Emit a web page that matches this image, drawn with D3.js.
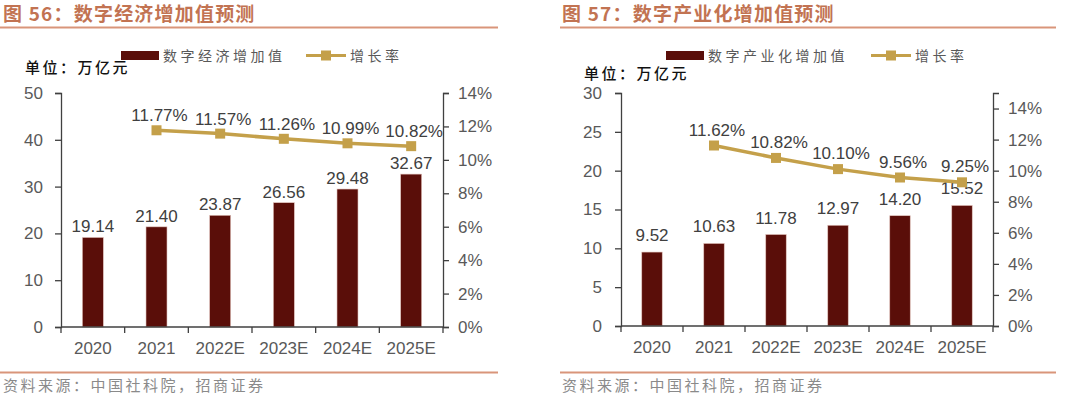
<!DOCTYPE html>
<html>
<head>
<meta charset="utf-8">
<style>
    body { margin: 0; background: #fff; }
    svg { display: block; }
    .title { font-family: "Noto Sans CJK SC", sans-serif; font-weight: 700; font-size: 19px; fill: #C27352; letter-spacing: 1.2px; }
    .num { font-family: "Liberation Sans", Arial, sans-serif; font-size: 17px; fill: #404040; }
    .tick text { font-family: "Liberation Sans", Arial, sans-serif; font-size: 17px; fill: #595959; }
    .cjk { font-family: "Noto Sans CJK SC", sans-serif; }
</style>
</head>
<body>
<div id="chart"></div>
<script src="https://cdnjs.cloudflare.com/ajax/libs/d3/7.8.5/d3.min.js"></script>
<script>
    // data
    const years = ["2020", "2021", "2022E", "2023E", "2024E", "2025E"];
    const economyValue = [19.14, 21.40, 23.87, 26.56, 29.48, 32.67];
    const economyGrowth = [null, 11.77, 11.57, 11.26, 10.99, 10.82];
    const industryValue = [9.52, 10.63, 11.78, 12.97, 14.20, 15.52];
    const industryGrowth = [null, 11.62, 10.82, 10.10, 9.56, 9.25];
    const economyTicks = [0, 10, 20, 30, 40, 50];
    const industryTicks = [0, 5, 10, 15, 20, 25, 30];
    const growthTicks = [0, 2, 4, 6, 8, 10, 12, 14];

    const barColor = "#5A0E09";
    const lineColor = "#C4A04A";
    const ruleColor = "#D9957A";

    const svg = d3.select("#chart").append("svg")
        .attr("width", 1080)
        .attr("height", 398);

    function drawChart(cfg) {
        const g = svg.append("g");

        // title + rules
        g.append("text").attr("class", "title")
            .attr("x", cfg.titleX).attr("y", 21)
            .text(cfg.title);
        g.append("line")
            .attr("x1", cfg.ruleX1).attr("x2", cfg.ruleX2)
            .attr("y1", 27.5).attr("y2", 27.5)
            .attr("stroke", ruleColor).attr("stroke-width", 2);
        g.append("line")
            .attr("x1", cfg.ruleX1).attr("x2", cfg.ruleX2)
            .attr("y1", 372.5).attr("y2", 372.5)
            .attr("stroke", ruleColor).attr("stroke-width", 2);
        g.append("text").attr("class", "cjk")
            .attr("x", cfg.titleX).attr("y", 391)
            .attr("font-size", 15).attr("fill", "#8a8a8a")
            .attr("letter-spacing", 2.5)
            .text("资料来源：中国社科院，招商证券");

        // legend
        g.append("rect")
            .attr("x", cfg.legendBarX).attr("y", 51)
            .attr("width", 38).attr("height", 9)
            .attr("fill", barColor);
        g.append("text").attr("class", "cjk")
            .attr("x", cfg.legendBarX + 42).attr("y", 61)
            .attr("font-size", 14).attr("fill", "#595959")
            .attr("letter-spacing", 3.5)
            .text(cfg.barName);
        g.append("line")
            .attr("x1", cfg.legendLineX).attr("x2", cfg.legendLineX + 40)
            .attr("y1", 55.5).attr("y2", 55.5)
            .attr("stroke", lineColor).attr("stroke-width", 3);
        g.append("rect")
            .attr("x", cfg.legendLineX + 15).attr("y", 50.5)
            .attr("width", 10).attr("height", 10)
            .attr("fill", lineColor);
        g.append("text").attr("class", "cjk")
            .attr("x", cfg.legendLineX + 44).attr("y", 61)
            .attr("font-size", 14).attr("fill", "#595959")
            .attr("letter-spacing", 3.5)
            .text("增长率");

        g.append("text").attr("class", "cjk")
            .attr("x", cfg.unitX).attr("y", cfg.unitY)
            .attr("font-size", 15).attr("font-weight", 500).attr("fill", "#111")
            .attr("letter-spacing", 2.5)
            .text("单位：万亿元");

        // scales
        const x = d3.scaleBand().domain(years)
            .range([cfg.left, cfg.right]).paddingInner(0.67).paddingOuter(0.335);
        const y = d3.scaleLinear().domain(cfg.yDomain).range([cfg.bottom, cfg.top]);
        const y2 = d3.scaleLinear().domain(cfg.y2Domain).range([cfg.bottom, cfg.top]);
        const step = (cfg.right - cfg.left) / years.length;

        // bars
        g.selectAll(".bar").data(cfg.values).join("rect")
            .attr("class", "bar")
            .attr("x", (d, i) => x(years[i]))
            .attr("y", d => y(d))
            .attr("width", x.bandwidth())
            .attr("height", d => cfg.bottom - y(d))
            .attr("fill", barColor)
            .attr("stroke", "#e3c4bd").attr("stroke-width", 0.6);

        g.selectAll(".barLabel").data(cfg.values).join("text")
            .attr("class", "num")
            .attr("text-anchor", "middle")
            .attr("x", (d, i) => x(years[i]) + x.bandwidth() / 2)
            .attr("y", d => y(d) + cfg.barLabelDy)
            .text(d => d.toFixed(2));

        // axes
        const axisL = d3.axisLeft(y).tickValues(cfg.yTicks).tickSize(6).tickPadding(cfg.leftPad);
        g.append("g").attr("transform", `translate(${cfg.left},0)`).call(axisL);
        const axisR = d3.axisRight(y2).tickValues(growthTicks).tickSize(6).tickPadding(cfg.rightPad)
            .tickFormat(d => d + "%");
        g.append("g").attr("transform", `translate(${cfg.right},0)`).call(axisR);

        const axisB = d3.axisBottom(x).tickSize(0).tickPadding(15);
        const bx = g.append("g").attr("transform", `translate(0,${cfg.bottom})`).call(axisB);
        bx.select(".domain").remove();
        g.append("line")
            .attr("x1", cfg.left).attr("x2", cfg.right)
            .attr("y1", cfg.bottom).attr("y2", cfg.bottom)
            .attr("stroke", "#404040").attr("stroke-width", 1.3);
        g.selectAll(".xtick").data(d3.range(years.length + 1)).join("line")
            .attr("x1", i => cfg.left + i * step).attr("x2", i => cfg.left + i * step)
            .attr("y1", cfg.bottom).attr("y2", cfg.bottom + 6)
            .attr("stroke", "#404040").attr("stroke-width", 1.3);

        g.selectAll(".domain, .tick line").attr("stroke", "#404040").attr("stroke-width", 1.3);

        // growth line
        const pts = cfg.growth.map((d, i) => ({ v: d, cx: x(years[i]) + x.bandwidth() / 2 }))
            .filter(d => d.v !== null);
        const line = d3.line().x(d => d.cx).y(d => y2(d.v));
        g.append("path").datum(pts)
            .attr("d", line)
            .attr("fill", "none")
            .attr("stroke", lineColor).attr("stroke-width", 3.5);
        g.selectAll(".marker").data(pts).join("rect")
            .attr("x", d => d.cx - 5).attr("y", d => y2(d.v) - 5)
            .attr("width", 10).attr("height", 10)
            .attr("fill", lineColor);
        g.selectAll(".rateLabel").data(pts).join("text")
            .attr("class", "num")
            .attr("text-anchor", "middle")
            .attr("x", d => d.cx + 3)
            .attr("y", d => y2(d.v) + cfg.rateLabelDy)
            .text(d => d.v.toFixed(2) + "%");
    }

    drawChart({
        title: "图 56：数字经济增加值预测",
        barName: "数字经济增加值",
        values: economyValue,
        growth: economyGrowth,
        yTicks: economyTicks,
        yDomain: [0, 50],
        y2Domain: [0, 14],
        titleX: 3, ruleX1: 0, ruleX2: 498,
        legendBarX: 121, legendLineX: 306,
        unitX: 25, unitY: 73,
        left: 61, right: 443, top: 93, bottom: 327,
        leftPad: 12, rightPad: 9,
        barLabelDy: -5, rateLabelDy: -9
    });

    drawChart({
        title: "图 57：数字产业化增加值预测",
        barName: "数字产业化增加值",
        values: industryValue,
        growth: industryGrowth,
        yTicks: industryTicks,
        yDomain: [0, 30],
        y2Domain: [0, 15],
        titleX: 562, ruleX1: 560, ruleX2: 1056,
        legendBarX: 666, legendLineX: 871,
        unitX: 584, unitY: 79,
        left: 621, right: 993, top: 93, bottom: 326,
        leftPad: 13, rightPad: 9,
        barLabelDy: -11, rateLabelDy: -10
    });
</script>
</body>
</html>
